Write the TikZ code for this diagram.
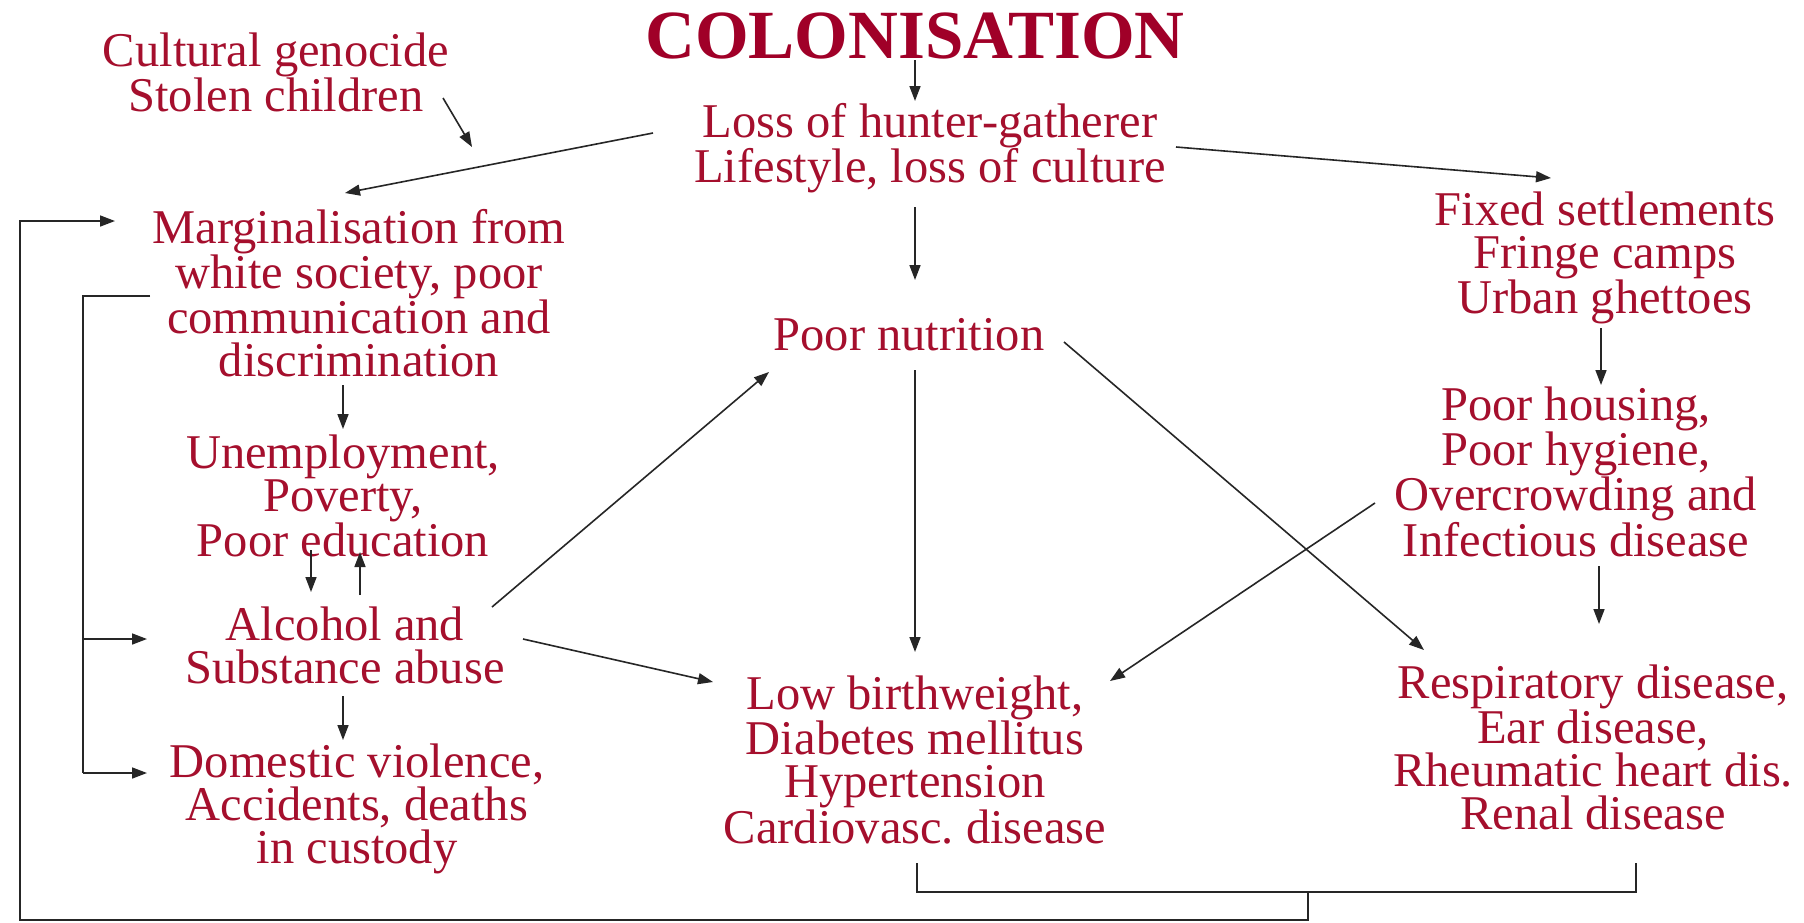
\documentclass[tikz,border=0pt]{standalone}
\usepackage{fontspec}
\setmainfont{Liberation Serif}
\usetikzlibrary{arrows.meta}
\definecolor{crim}{RGB}{165,15,45}
\definecolor{crimtitle}{RGB}{160,0,40}
\frenchspacing
\begin{document}
\begin{tikzpicture}[x=1pt,y=-1pt,
  lbl/.style={text=crim, align=center, font=\fontsize{48.5}{43}\selectfont, inner sep=0pt},
  arr/.style={-{Triangle[length=15pt,width=11pt]}, line width=1.6pt, draw=black!85},
  ln/.style={line width=1.6pt, draw=black!85}]
\useasboundingbox (0,0) rectangle (1804,922);
\fill[white] (0,0) rectangle (1804,922);

% nodes
\node[text=crimtitle, font=\fontsize{69}{69}\selectfont\bfseries, inner sep=0pt] (title) at (915,36) {COLONISATION};
\node[lbl] (cult) at (276,72) {Cultural genocide\\Stolen children};
\node[lbl] (loss) at (930,148) {Loss of hunter-gatherer\\Lifestyle, loss of culture};
\node[lbl] (marg) at (359,293) {Marginalisation from\\white society, poor\\communication and\\discrimination};
\node[lbl] (nutr) at (909,335) {Poor nutrition};
\node[lbl] (fixed) at (1605,258) {Fixed settlements\\Fringe camps\\Urban ghettoes};
\node[lbl] (unemp) at (343,496) {Unemployment,\\Poverty,\\Poor education};
\node[lbl] (alc) at (345,645) {Alcohol and\\Substance abuse};
\node[lbl] (dom) at (357,809) {Domestic violence,\\Accidents, deaths\\in custody};
\node[lbl] (low) at (915,760) {Low birthweight,\\Diabetes mellitus\\Hypertension\\Cardiovasc. disease};
\node[lbl] (hous) at (1576,472) {Poor housing,\\Poor hygiene,\\Overcrowding and\\Infectious disease};
\node[lbl] (resp) at (1593,747) {Respiratory disease,\\Ear disease,\\Rheumatic heart dis.\\Renal disease};

% connector end points
\coordinate (title-s) at (915,60);
\coordinate (loss-n) at (915,101);
\coordinate (loss-w) at (653,133);
\coordinate (marg-n) at (345,193);
\coordinate (cult-e) at (443,98);
\coordinate (cult-t) at (472,147);
\coordinate (loss-e) at (1176,147);
\coordinate (fixed-n) at (1551,178);
\coordinate (loss-s) at (915,207);
\coordinate (nutr-n) at (915,280);
\coordinate (marg-s) at (343,385);
\coordinate (unemp-n) at (343,429);
\coordinate (unemp-s1) at (311,550);
\coordinate (alc-n1) at (311,592);
\coordinate (alc-n2) at (360,595);
\coordinate (unemp-s2) at (360,552);
\coordinate (alc-ne) at (492,607);
\coordinate (nutr-sw) at (769,372);
\coordinate (alc-e) at (523,639);
\coordinate (low-nw) at (713,682);
\coordinate (alc-s) at (343,696);
\coordinate (dom-n) at (343,740);
\coordinate (nutr-s) at (915,370);
\coordinate (low-n) at (915,652);
\coordinate (nutr-e) at (1064,342);
\coordinate (resp-nw) at (1424,650);
\coordinate (hous-w) at (1375,503);
\coordinate (low-ne) at (1110,681);
\coordinate (fixed-s) at (1601,328);
\coordinate (hous-n) at (1601,385);
\coordinate (hous-s) at (1599,566);
\coordinate (resp-n) at (1599,624);
\coordinate (low-s) at (917,863);
\coordinate (resp-s) at (1636,863);
\coordinate (brk-mid) at (1308,892);
\coordinate (marg-w) at (115,221);
\coordinate (marg-wl) at (150,296);
\coordinate (alc-w) at (147,639);
\coordinate (dom-w) at (147,773);

% connectors
\draw[arr] (title-s) -- (loss-n);
\draw[arr] (loss-w) -- (marg-n);
\draw[arr] (cult-e) -- (cult-t);
\draw[arr] (loss-e) -- (fixed-n);
\draw[arr] (loss-s) -- (nutr-n);
\draw[arr] (marg-s) -- (unemp-n);
\draw[arr] (unemp-s1) -- (alc-n1);
\draw[arr] (alc-n2) -- (unemp-s2);
\draw[arr] (alc-ne) -- (nutr-sw);
\draw[arr] (alc-e) -- (low-nw);
\draw[arr] (alc-s) -- (dom-n);
\draw[arr] (nutr-s) -- (low-n);
\draw[arr] (nutr-e) -- (resp-nw);
\draw[arr] (hous-w) -- (low-ne);
\draw[arr] (fixed-s) -- (hous-n);
\draw[arr] (hous-s) -- (resp-n);

% feedback brackets
\draw[ln] (low-s) |- (brk-mid) -| (resp-s);
\draw[arr] (brk-mid) -- ++(0,28) -| (20,920) |- (marg-w);
\draw[ln] (marg-wl) -| (83,773);
\draw[arr] (83,639) -- (alc-w);
\draw[arr] (83,773) -- (dom-w);
\end{tikzpicture}
\end{document}
